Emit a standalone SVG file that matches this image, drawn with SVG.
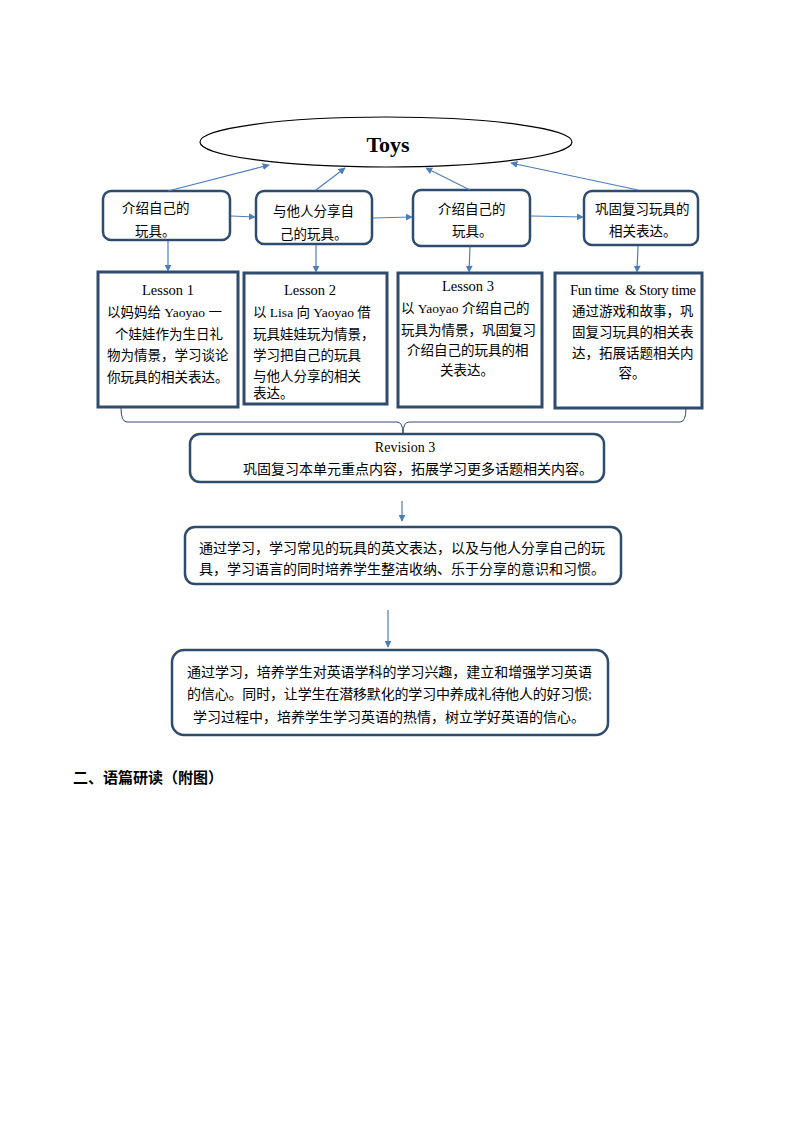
<svg xmlns="http://www.w3.org/2000/svg" width="794" height="1123" viewBox="0 0 794 1123">
<defs>
<marker id="ah" viewBox="0 0 10 10" refX="9" refY="5" markerWidth="7" markerHeight="7" markerUnits="userSpaceOnUse" orient="auto">
<path d="M0,0 L10,5 L0,10 z" fill="#4A7EBB"/>
</marker>
<style>
.rb{fill:#fff;stroke:#2F4B6E;stroke-width:2.5}
.sq{fill:#fff;stroke:#2F4B6E;stroke-width:3}
.ar{stroke:#4A7EBB;stroke-width:1.2;fill:none;marker-end:url(#ah)}
.t{font-family:"Liberation Serif","Noto Sans CJK SC",serif;font-size:13.5px;fill:#000}
.h{font-family:"Liberation Serif","Noto Sans CJK SC",serif;font-size:14.5px;fill:#000}
.c{font-family:"Noto Sans CJK SC","Liberation Sans",sans-serif;font-size:13.5px;fill:#000}
.m{font-family:"Liberation Serif","Noto Sans CJK SC",serif;font-size:14px;fill:#000}
</style>
</defs>
<rect width="794" height="1123" fill="#fff"/>

<g id="toys">
<ellipse cx="386" cy="142" rx="186" ry="25" fill="#fff" stroke="#000" stroke-width="1.2"/>
<text x="388" y="152" text-anchor="middle" font-family="Liberation Serif,serif" font-weight="bold" font-size="22">Toys</text>
</g>

<g id="box1">
<rect class="rb" x="103" y="191" width="127" height="49" rx="8"/>
<text class="c" x="122" y="213">介绍自己的</text>
<text class="c" x="135" y="236">玩具。</text>
</g>
<g id="box2">
<rect class="rb" x="256" y="191" width="116" height="53" rx="8"/>
<text class="c" x="273" y="216">与他人分享自</text>
<text class="c" x="280" y="239">己的玩具。</text>
</g>
<g id="box3">
<rect class="rb" x="413" y="190" width="117" height="56" rx="8"/>
<text class="c" x="438" y="214">介绍自己的</text>
<text class="c" x="452" y="236">玩具。</text>
</g>
<g id="box4">
<rect class="rb" x="584" y="191" width="114" height="54" rx="8"/>
<text class="c" x="595" y="214">巩固复习玩具的</text>
<text class="c" x="609" y="236">相关表达。</text>
</g>

<g id="lesson1">
<rect class="sq" x="98" y="272" width="140" height="135"/>
<text class="h" x="168" y="295" text-anchor="middle">Lesson 1</text>
<text class="t" x="107" y="317">以妈妈给 Yaoyao 一</text>
<text class="t" x="115" y="339">个娃娃作为生日礼</text>
<text class="t" x="107" y="360">物为情景，学习谈论</text>
<text class="t" x="107" y="382">你玩具的相关表达。</text>
</g>
<g id="lesson2">
<rect class="sq" x="244" y="273" width="143" height="131"/>
<text class="h" x="310" y="295" text-anchor="middle">Lesson 2</text>
<text class="t" x="253" y="317">以 Lisa 向 Yaoyao 借</text>
<text class="t" x="253" y="339">玩具娃娃玩为情景，</text>
<text class="t" x="253" y="360">学习把自己的玩具</text>
<text class="t" x="253" y="381">与他人分享的相关</text>
<text class="t" x="253" y="398">表达。</text>
</g>
<g id="lesson3">
<rect class="sq" x="398" y="273" width="144" height="134"/>
<text class="h" x="468" y="291" text-anchor="middle">Lesson 3</text>
<text class="t" x="401" y="313">以 Yaoyao 介绍自己的</text>
<text class="t" x="401" y="335">玩具为情景，巩固复习</text>
<text class="t" x="407" y="355">介绍自己的玩具的相</text>
<text class="t" x="440" y="375">关表达。</text>
</g>
<g id="lesson4">
<rect class="sq" x="555" y="273" width="147" height="135"/>
<text class="h" x="570" y="295" textLength="126">Fun time&#160; &amp; Story time</text>
<text class="t" x="572" y="316">通过游戏和故事，巩</text>
<text class="t" x="572" y="337">固复习玩具的相关表</text>
<text class="t" x="572" y="358">达，拓展话题相关内</text>
<text class="t" x="632" y="378" text-anchor="middle">容。</text>
</g>

<g id="revision">
<rect class="rb" x="190" y="434" width="414" height="48" rx="10"/>
<text class="m" x="405" y="452" text-anchor="middle">Revision 3</text>
<text class="m" x="243" y="474">巩固复习本单元重点内容，拓展学习更多话题相关内容。</text>
</g>

<g id="goal1">
<rect class="rb" x="185" y="527" width="436" height="57" rx="10"/>
<text class="m" x="199" y="553" textLength="406">通过学习，学习常见的玩具的英文表达，以及与他人分享自己的玩</text>
<text class="m" x="199" y="574" textLength="406">具，学习语言的同时培养学生整洁收纳、乐于分享的意识和习惯。</text>
</g>

<g id="goal2">
<rect class="rb" x="172" y="650" width="436" height="85" rx="12"/>
<text class="m" x="187" y="677" textLength="405">通过学习，培养学生对英语学科的学习兴趣，建立和增强学习英语</text>
<text class="m" x="187" y="699" textLength="405">的信心。同时，让学生在潜移默化的学习中养成礼待他人的好习惯;</text>
<text class="m" x="193" y="722">学习过程中，培养学生学习英语的热情，树立学好英语的信心。</text>
</g>

<g id="connectors">
<line class="ar" x1="168" y1="191" x2="269" y2="165"/>
<line class="ar" x1="316" y1="190" x2="345" y2="168"/>
<line class="ar" x1="470" y1="190" x2="426" y2="168"/>
<line class="ar" x1="638" y1="190" x2="511" y2="163"/>
<line class="ar" x1="231" y1="216" x2="255" y2="217"/>
<line class="ar" x1="373" y1="218" x2="412" y2="217"/>
<line class="ar" x1="531" y1="216" x2="583" y2="217"/>
<line class="ar" x1="168" y1="241" x2="168" y2="271"/>
<line class="ar" x1="316" y1="245" x2="316" y2="272"/>
<line class="ar" x1="470" y1="247" x2="469" y2="272"/>
<line class="ar" x1="638" y1="246" x2="637" y2="272"/>
<path d="M121,408 Q121,422 127,422 L397,422 Q403,422 403,434 Q403,422 409,422 L680,422 Q686,422 686,408" fill="none" stroke="#2F4B6E" stroke-width="1"/>
<line class="ar" x1="402" y1="501" x2="402" y2="521"/>
<line class="ar" x1="388" y1="610" x2="388" y2="647"/>
</g>

<text x="73" y="783" font-family="Liberation Serif,'Noto Sans CJK SC',serif" font-weight="bold" font-size="15">二、语篇研读（附图）</text>
</svg>
